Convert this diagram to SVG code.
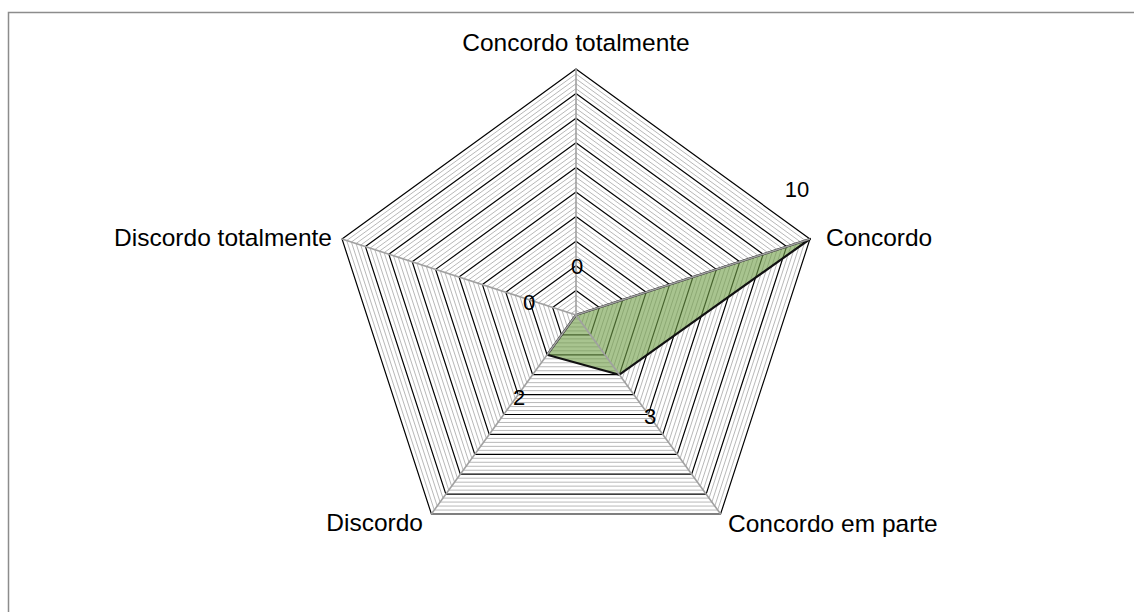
<svg xmlns="http://www.w3.org/2000/svg" xmlns:xlink="http://www.w3.org/1999/xlink" width="1134" height="612" viewBox="0 0 1134 612">
<style>
.minor{fill:none;stroke:#b8b8b8;stroke-width:1}
.major{fill:none;stroke:#000;stroke-width:1.2}
.axis{stroke:#a0a0a0;stroke-width:1.6;fill:none}
.lbl{font-family:"Liberation Sans",Arial,sans-serif;font-size:24.5px;fill:#000}
.num{font-family:"Liberation Sans",Arial,sans-serif;font-size:22px;fill:#000;text-anchor:middle}
</style>
<defs>
<polygon id="p" points="0,-1 0.951057,-0.309017 0.587785,0.809017 -0.587785,0.809017 -0.951057,-0.309017" vector-effect="non-scaling-stroke"/>
</defs>
<rect x="0" y="0" width="1134" height="612" fill="#fff"/>
<rect x="8.5" y="12.5" width="1300" height="800" fill="none" stroke="#8c8c8c" stroke-width="1.5"/>
<g id="minor-grid" class="minor" transform="translate(576 315)">
<use xlink:href="#p" transform="scale(4.92)"/><use xlink:href="#p" transform="scale(9.84)"/><use xlink:href="#p" transform="scale(14.76)"/><use xlink:href="#p" transform="scale(19.68)"/>
<use xlink:href="#p" transform="scale(29.52)"/><use xlink:href="#p" transform="scale(34.44)"/><use xlink:href="#p" transform="scale(39.36)"/><use xlink:href="#p" transform="scale(44.28)"/>
<use xlink:href="#p" transform="scale(54.12)"/><use xlink:href="#p" transform="scale(59.04)"/><use xlink:href="#p" transform="scale(63.96)"/><use xlink:href="#p" transform="scale(68.88)"/>
<use xlink:href="#p" transform="scale(78.72)"/><use xlink:href="#p" transform="scale(83.64)"/><use xlink:href="#p" transform="scale(88.56)"/><use xlink:href="#p" transform="scale(93.48)"/>
<use xlink:href="#p" transform="scale(103.32)"/><use xlink:href="#p" transform="scale(108.24)"/><use xlink:href="#p" transform="scale(113.16)"/><use xlink:href="#p" transform="scale(118.08)"/>
<use xlink:href="#p" transform="scale(127.92)"/><use xlink:href="#p" transform="scale(132.84)"/><use xlink:href="#p" transform="scale(137.76)"/><use xlink:href="#p" transform="scale(142.68)"/>
<use xlink:href="#p" transform="scale(152.52)"/><use xlink:href="#p" transform="scale(157.44)"/><use xlink:href="#p" transform="scale(162.36)"/><use xlink:href="#p" transform="scale(167.28)"/>
<use xlink:href="#p" transform="scale(177.12)"/><use xlink:href="#p" transform="scale(182.04)"/><use xlink:href="#p" transform="scale(186.96)"/><use xlink:href="#p" transform="scale(191.88)"/>
<use xlink:href="#p" transform="scale(201.72)"/><use xlink:href="#p" transform="scale(206.64)"/><use xlink:href="#p" transform="scale(211.56)"/><use xlink:href="#p" transform="scale(216.48)"/>
<use xlink:href="#p" transform="scale(226.32)"/><use xlink:href="#p" transform="scale(231.24)"/><use xlink:href="#p" transform="scale(236.16)"/><use xlink:href="#p" transform="scale(241.08)"/>
</g>
<g id="major-grid" class="major" transform="translate(576 315)">
<use xlink:href="#p" transform="scale(24.6)"/><use xlink:href="#p" transform="scale(49.2)"/><use xlink:href="#p" transform="scale(73.8)"/><use xlink:href="#p" transform="scale(98.4)"/><use xlink:href="#p" transform="scale(123)"/>
<use xlink:href="#p" transform="scale(147.6)"/><use xlink:href="#p" transform="scale(172.2)"/><use xlink:href="#p" transform="scale(196.8)"/><use xlink:href="#p" transform="scale(221.4)"/><use xlink:href="#p" transform="scale(246)"/>
</g>
<g id="series">
<polygon points="576,315 809.96,238.98 619.38,374.71 547.08,354.8" fill="#72a04a" fill-opacity="0.62" stroke="#111" stroke-width="2.2" stroke-linejoin="round"/>
</g>
<g id="axes" class="axis">
<line x1="576" y1="315" x2="576" y2="69"/>
<line x1="576" y1="315" x2="809.96" y2="238.98"/>
<line x1="576" y1="315" x2="720.6" y2="514.02"/>
<line x1="576" y1="315" x2="431.4" y2="514.02"/>
<line x1="576" y1="315" x2="342.04" y2="238.98"/>
</g>
<g id="category-labels" class="lbl">
<text x="576" y="51" text-anchor="middle">Concordo totalmente</text>
<text x="826" y="246">Concordo</text>
<text x="728" y="532">Concordo em parte</text>
<text x="423" y="531" text-anchor="end">Discordo</text>
<text x="332" y="246" text-anchor="end">Discordo totalmente</text>
</g>
<g id="data-labels" class="num">
<text x="577" y="274">0</text>
<text x="797" y="197">10</text>
<text x="650" y="424">3</text>
<text x="519" y="405">2</text>
<text x="529" y="310">0</text>
</g>
</svg>
